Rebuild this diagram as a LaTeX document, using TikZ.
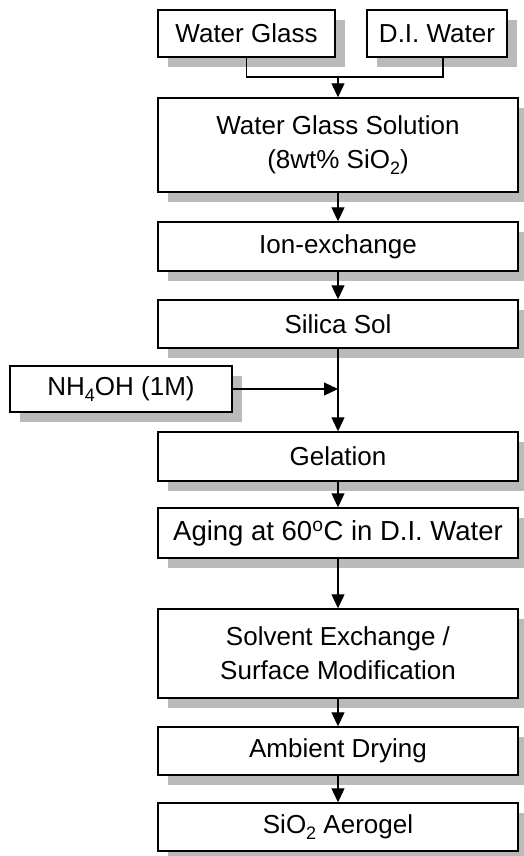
\documentclass[tikz,border=0pt]{standalone}
\usepackage{fontspec}
\setmainfont{Liberation Sans}
\usetikzlibrary{shadows,arrows.meta}
\newcommand{\lowsub}[1]{\raisebox{-0.45ex}{\fontsize{18}{18}\selectfont #1}}
\begin{document}
\begin{tikzpicture}[x=1pt,y=-1pt,
  box/.style={draw, line width=1.4pt, fill=white, inner sep=0pt, align=center,
    font=\fontsize{26}{34}\selectfont,
    drop shadow={shadow xshift=10pt, shadow yshift=-10pt, fill=black!27, opacity=1}},
  link/.style={line width=1.1pt},
  arr/.style={link, -{Triangle[width=13pt,length=14pt]}}]
\clip (0,0) rectangle (524,856);
\fill[white] (0,0) rectangle (524,856);
\node[box, minimum width=177pt, minimum height=47pt] (wg) at (246.5,33.5) {Water Glass};
\node[box, minimum width=140pt, minimum height=47pt] (di) at (437,33.5) {D.I. Water};
\node[box, minimum width=360pt, minimum height=94pt] (wgs) at (338,145) {Water Glass Solution\\(8wt\% SiO\lowsub{2})};
\node[box, minimum width=360pt, minimum height=49pt] (ion) at (338,246.5) {Ion-exchange};
\node[box, minimum width=360pt, minimum height=48pt] (sol) at (338,324) {Silica Sol};
\node[box, minimum width=222pt, minimum height=46pt] (nh) at (121,389) {NH\lowsub{4}OH (1M)};
\node[box, minimum width=360pt, minimum height=49pt] (gel) at (338,456.5) {Gelation};
\node[box, minimum width=360pt, minimum height=50pt, font=\fontsize{27.5}{34}\selectfont] (age) at (338,533) {Aging at 60\textsuperscript{o}C in D.I. Water};
\node[box, minimum width=360pt, minimum height=89pt] (sv) at (338,653.5) {Solvent Exchange /\\Surface Modification};
\node[box, minimum width=360pt, minimum height=48pt] (amb) at (338,751) {Ambient Drying};
\node[box, minimum width=360pt, minimum height=48pt] (aer) at (338,827) {SiO\lowsub{2} Aerogel};
\coordinate (j) at (338,77);
\draw[link] (wg.south) |- (j);
\draw[link] ([xshift=6pt]di.south) |- (j);
\draw[arr] (j) -- (wgs.north);
\draw[arr] (wgs.south) -- (ion.north);
\draw[arr] (ion.south) -- (sol.north);
\draw[arr] (sol.south) -- (gel.north);
\draw[arr] (nh.east) -- (nh.east -| sol.south);
\draw[arr] (gel.south) -- (age.north);
\draw[arr] (age.south) -- (sv.north);
\draw[arr] (sv.south) -- (amb.north);
\draw[arr] (amb.south) -- (aer.north);
\end{tikzpicture}
\end{document}
